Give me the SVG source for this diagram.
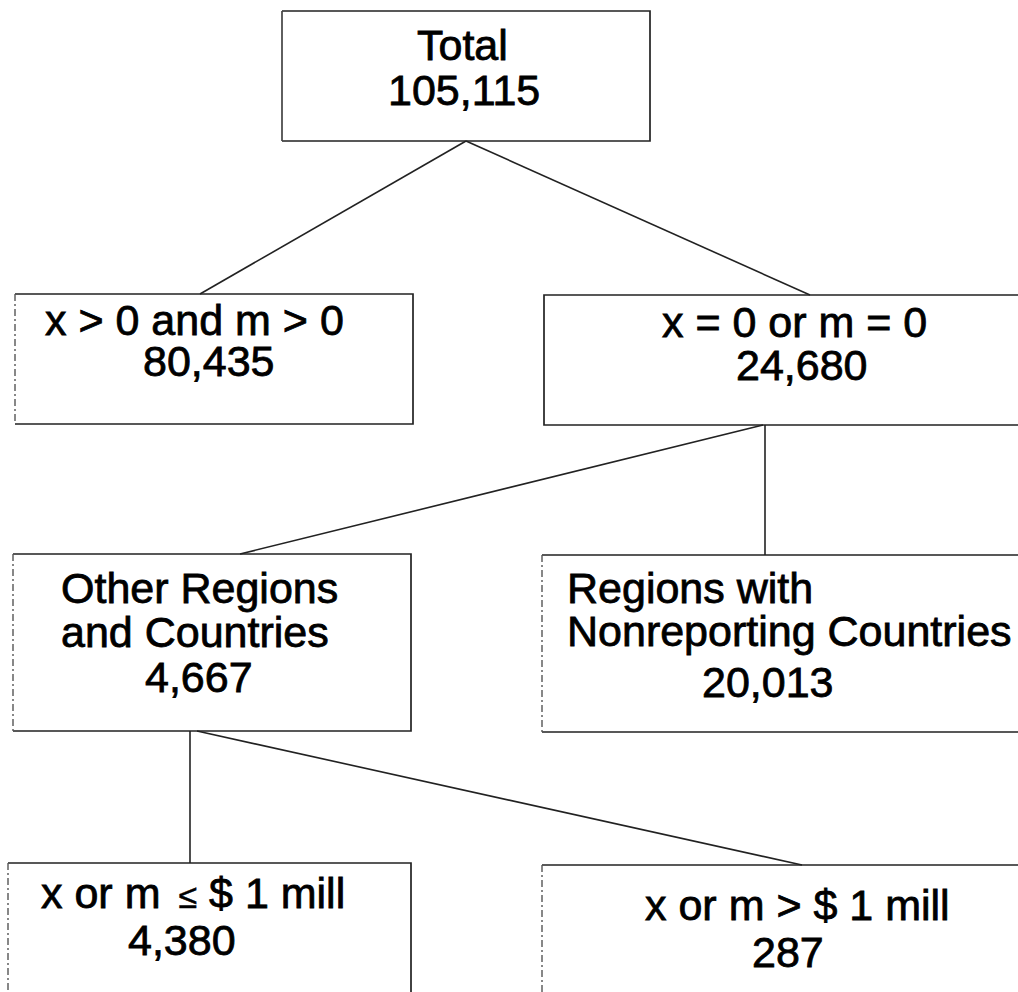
<svg xmlns="http://www.w3.org/2000/svg" width="1018" height="992" viewBox="0 0 1018 992">
<style>
.edge{fill:none;stroke:#222;stroke-width:1.7}
.ledge{fill:none;stroke:#555;stroke-width:1.4;stroke-dasharray:7 3 2 3}
.t{font-family:"Liberation Sans",Arial,Helvetica,sans-serif;font-size:43px;fill:#000;stroke:#000;stroke-width:0.8}
.c{fill:none;stroke:#222;stroke-width:1.6}
</style>
<rect width="1018" height="992" fill="#fff"/>
<g id="connectors">
<line class="c" x1="466" y1="141" x2="200" y2="294"/>
<line class="c" x1="466" y1="141" x2="810" y2="295"/>
<line class="c" x1="763" y1="425" x2="240" y2="554"/>
<line class="c" x1="765" y1="425" x2="765" y2="555"/>
<line class="c" x1="190" y1="731" x2="190" y2="863"/>
<line class="c" x1="197" y1="731" x2="802" y2="865"/>
</g>
<g id="n-total">
<path class="edge" d="M282,11 H650 V141 H282"/>
<line class="edge" x1="282" y1="11" x2="282" y2="141" style="stroke:#444"/>
<text class="t" x="417" y="60">Total</text>
<text class="t" x="388" y="105">105,115</text>
</g>
<g id="n-pos">
<path class="edge" d="M15,294 H413 V424 H15"/>
<line class="ledge" x1="15" y1="294" x2="15" y2="424"/>
<text class="t" x="45" y="335">x &gt; 0 and m &gt; 0</text>
<text class="t" x="143" y="376">80,435</text>
</g>
<g id="n-zero">
<path class="edge" d="M1030,295 H544 V425 H1030"/>
<text class="t" x="662" y="337">x = 0 or m = 0</text>
<text class="t" x="736" y="380">24,680</text>
</g>
<g id="n-other">
<path class="edge" d="M13,554 H411 V731 H13"/>
<line class="ledge" x1="13" y1="554" x2="13" y2="731"/>
<text class="t" x="61" y="603">Other Regions</text>
<text class="t" x="61" y="647">and Countries</text>
<text class="t" x="145" y="692">4,667</text>
</g>
<g id="n-nonrep">
<path class="edge" d="M1030,555 H542 M542,732 H1030"/>
<line class="ledge" x1="542" y1="555" x2="542" y2="732"/>
<text class="t" x="567" y="603">Regions with</text>
<text class="t" x="567" y="646">Nonreporting Countries</text>
<text class="t" x="702" y="697">20,013</text>
</g>
<g id="n-small">
<path class="edge" d="M8,863 H411 V1000"/>
<line class="ledge" x1="8" y1="863" x2="8" y2="1000"/>
<text class="t" x="41" y="908">x or m <tspan dx="6" font-size="34" stroke-width="0.5">≤</tspan> $ 1 mill</text>
<text class="t" x="128" y="955">4,380</text>
</g>
<g id="n-large">
<path class="edge" d="M1030,865 H542"/>
<line class="ledge" x1="542" y1="865" x2="542" y2="1000"/>
<text class="t" x="645" y="920">x or m &gt; $ 1 mill</text>
<text class="t" x="752" y="967">287</text>
</g>
</svg>
